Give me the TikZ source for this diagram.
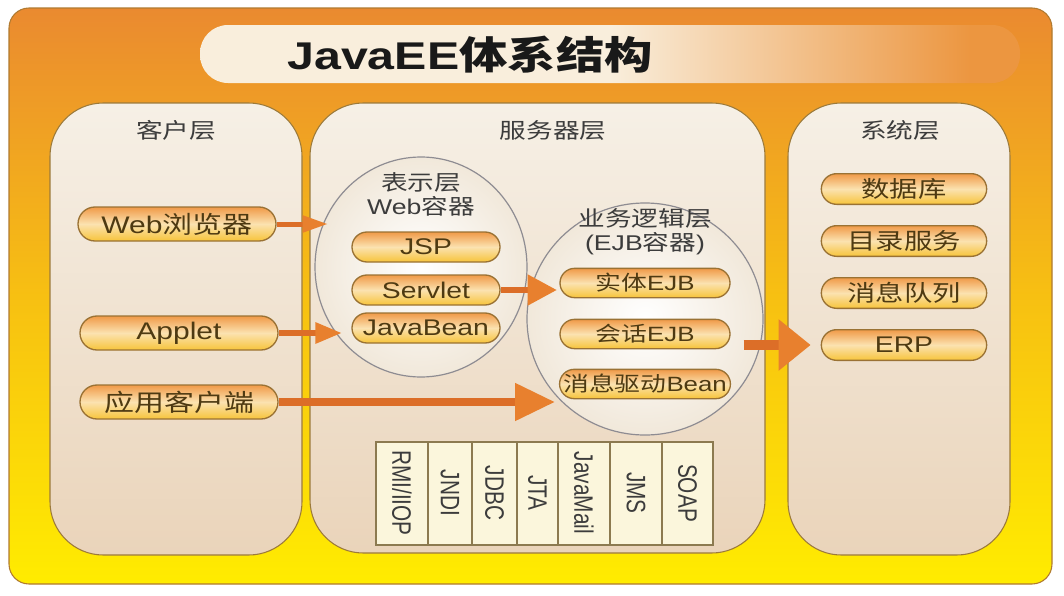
\documentclass[tikz,border=0pt]{standalone}
\usepackage{fontspec}
\setmainfont{Liberation Sans}[FakeStretch=1.25]
\newfontfamily\zh{Noto Sans CJK SC}[FakeStretch=1.25]
\newfontfamily\rotsans{Liberation Sans}[FakeStretch=0.78]
\usetikzlibrary{positioning,shapes.geometric,shapes.misc,arrows.meta}

\definecolor{bgO}{HTML}{EA8A30}
\definecolor{bgM}{HTML}{F7C012}
\definecolor{bgY}{HTML}{FFEC00}
\definecolor{frameEdge}{HTML}{B07A30}
\definecolor{banL}{HTML}{F9EEDC}
\definecolor{banR}{HTML}{EC9640}
\definecolor{colTop}{HTML}{F6F0E6}
\definecolor{colBot}{HTML}{EAD4BA}
\definecolor{colEdge}{HTML}{9C7A3A}
\definecolor{labInk}{HTML}{3C3C3C}
\definecolor{pillTop}{HTML}{F09A48}
\definecolor{pillMid}{HTML}{FBE2B0}
\definecolor{pillBot}{HTML}{F7C43A}
\definecolor{pillEdge}{HTML}{9A7234}
\definecolor{pillInk}{HTML}{4E3A12}
\definecolor{bubbleEdge}{HTML}{8E8C92}
\definecolor{bubbleOut}{HTML}{F1E8DA}
\definecolor{cellFill}{HTML}{FBF6DC}
\definecolor{cellEdge}{HTML}{8C7A50}
\definecolor{shaftOrange}{HTML}{DC6E28}
\definecolor{headOrange}{HTML}{E8802E}

\pgfdeclarehorizontalshading{banner}{100bp}{color(0bp)=(banL); color(25bp)=(banL); color(50bp)=(banL); color(72bp)=(banR); color(100bp)=(banR)}

\tikzset{
  layer/.style={draw=colEdge, line width=0.8pt, rounded corners=40pt, top color=colTop, bottom color=colBot},
  layername/.style={text=labInk, font=\zh\fontsize{16}{19}\selectfont},
  bubble/.style={ellipse, draw=bubbleEdge, line width=0.9pt, inner color=white, outer color=bubbleOut},
  bubblename/.style={text=labInk, align=center, font=\fontsize{16}{18}\selectfont},
  pill/.style={rounded rectangle, draw=pillEdge, line width=1pt, top color=pillTop, bottom color=pillBot, middle color=pillMid, inner sep=0pt, text=pillInk},
  bigpill/.style={pill, minimum width=148.5pt, minimum height=25.5pt, font=\fontsize{18}{20}\selectfont},
  webpill/.style={pill, minimum width=111pt, minimum height=22.5pt, font=\fontsize{17}{19}\selectfont},
  ejbpill/.style={pill, minimum width=127.5pt, minimum height=22pt, font=\fontsize{15.5}{17}\selectfont},
  syspill/.style={pill, minimum width=124pt, minimum height=23pt, font=\fontsize{17}{19}\selectfont},
  cellbox/.style={draw=cellEdge, line width=0.8pt, fill=cellFill},
  proto/.style={rotate=-90, text=labInk, font=\rotsans\fontsize{20}{22}\selectfont},
  flow/.style={draw=shaftOrange}
}

\begin{document}
\begin{tikzpicture}[x=0.75pt,y=-0.75pt]
\fill[white] (0,0) rectangle (1064,596);
\useasboundingbox (0,0) rectangle (1064,596);
% frame and title
\path[draw=frameEdge, line width=0.8pt, rounded corners=15pt, top color=bgO, bottom color=bgY, middle color=bgM] (9,8) rectangle (1052,584);
\shade[shading=banner, rounded corners=21pt] (200,25) rectangle (1020,83);
\node[text=black!90, font=\bfseries\fontsize{29}{32}\selectfont] (title) at (470,55) {JavaEE{\zh 体系结构}};

% three layers
\node[layer, minimum width=189pt, minimum height=339pt] (client) at (176,329) {};
\node[layer, minimum width=341.25pt, minimum height=337.5pt] (server) at (537.5,328) {};
\node[layer, minimum width=166.5pt, minimum height=339pt] (system) at (899,329) {};
\node[layername] (clientT) at (176,130) {客户层};
\node[layername] (serverT) at (553,130) {服务器层};
\node[layername] (systemT) at (900,130) {系统层};

% containers
\node[bubble, minimum width=159pt, minimum height=165pt] (pres) at (421,267) {};
\node[bubble, minimum width=177pt, minimum height=174pt] (biz) at (645,319) {};
\node[bubblename] (presT) at (421,194) {{\zh 表示层}\\Web{\zh 容器}};
\node[bubblename] (bizT) at (645,232) {{\zh 业务逻辑层}\\(EJB{\zh 容器})};

% client side
\node[bigpill] (web) at (177,224) {Web{\zh 浏览器}};
\node[bigpill] (applet) at (179,333) {Applet};
\node[bigpill] (appc) at (179,402) {\zh 应用客户端};

% web container
\node[webpill] (jsp) at (426,247) {JSP};
\node[webpill] (servlet) at (426,290) {Servlet};
\node[webpill] (jbean) at (426,328) {JavaBean};

% ejb container
\node[ejbpill] (entity) at (645,283) {{\zh 实体}EJB};
\node[ejbpill] (session) at (645,334) {{\zh 会话}EJB};
\node[ejbpill] (mdb) at (645,384) {{\zh 消息驱动}Bean};

% system side
\node[syspill] (db) at (904,189) {\zh 数据库};
\node[syspill] (dir) at (904,241) {\zh 目录服务};
\node[syspill] (mq) at (904,293) {\zh 消息队列};
\node[syspill] (erp) at (904,345) {ERP};

% services
\foreach \l/\r/\t [count=\i] in {376/428/RMI\slash IIOP, 428/472/JNDI, 472/517/JDBC, 517/558/JTA, 558/610/JavaMail, 610/662/JMS, 662/713/SOAP}{
  \draw[cellbox] (\l,442) rectangle (\r,545);
  \node[proto] (p\i) at ({(\l+\r)/2},493) {\t};
}

% arrows
\coordinate (t1) at (328,224);
\coordinate (t2) at (342,333);
\coordinate (t3) at (555,402);
\coordinate (t4) at (557,290);
\draw[flow, line width=3.75pt, -{Triangle[length=19pt,width=12pt,color=headOrange]}] (web.east) -- (t1);
\draw[flow, line width=4.5pt, -{Triangle[length=20pt,width=15pt,color=headOrange]}] (applet.east) -- (t2);
\draw[flow, line width=6pt, -{Triangle[length=30pt,width=27pt,color=headOrange]}] (appc.east) -- (t3);
\draw[flow, line width=5pt, -{Triangle[length=22pt,width=22pt,color=headOrange]}] (servlet.east) -- (t4);
\draw[flow, line width=8pt, -{Triangle[length=24pt,width=37pt,color=headOrange]}] ([xshift=-15pt]biz.east |- erp.west) -- ([xshift=-7.5pt]erp.west);
\end{tikzpicture}
\end{document}
